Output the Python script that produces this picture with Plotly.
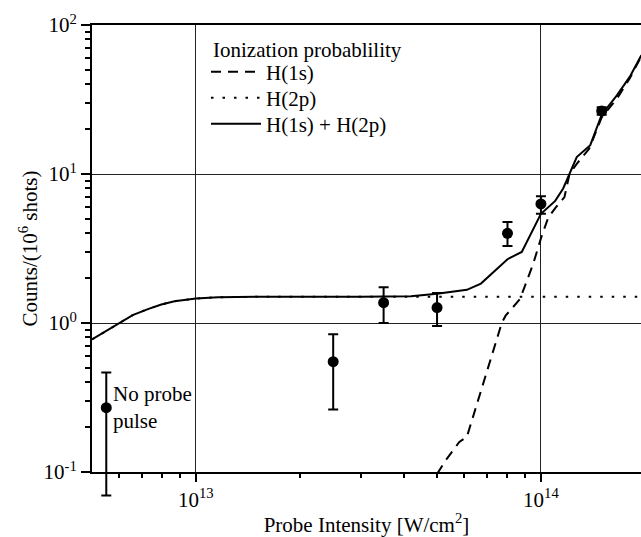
import numpy as np
import plotly.graph_objects as go

# Measured data (probe intensity W/cm^2, counts per 10^6 shots)
data_x = [5.5e12, 2.5e13, 3.5e13, 5.0e13, 8.0e13, 1.0e14, 1.5e14]
data_y = [0.27, 0.55, 1.37, 1.27, 4.0, 6.3, 26.5]
data_hi = [0.465, 0.84, 1.74, 1.59, 4.77, 7.08, 28.0]
data_lo = [0.0695, 0.263, 1.0, 0.955, 3.29, 5.42, 25.0]

# H(1s) ionization probability (dashed)
h1s_x = [5.0e13, 5.3e13, 5.8e13, 6.1e13, 7.7e13, 7.9e13, 8.7e13, 9.5e13, 1.0e14,
         1.05e14, 1.1e14, 1.17e14, 1.21e14, 1.27e14, 1.38e14, 1.5e14, 1.66e14,
         1.81e14, 1.95e14]
h1s_y = [0.097, 0.12, 0.159, 0.172, 1.0, 1.12, 1.45, 2.5, 3.7,
         5.1, 5.9, 7.0, 10.0, 11.7, 14.8, 24.0, 32.0, 44.0, 61.0]

# H(2p) ionization probability (dotted)
h2p_x = [5.0e12, 5.4e12, 5.94e12, 6.56e12, 7.26e12, 7.94e12, 8.67e12, 1.0e13,
         1.16e13, 1.5e13, 2.0e14]
h2p_y = [0.775, 0.86, 0.99, 1.13, 1.24, 1.33, 1.40, 1.46, 1.49, 1.5, 1.5]

# H(1s) + H(2p) (solid)
tot_x = [5.0e12, 5.4e12, 5.94e12, 6.56e12, 7.26e12, 7.94e12, 8.67e12, 1.0e13,
         1.16e13, 1.5e13, 3.0e13, 4.2e13,
         5.0e13, 6.1e13, 6.7e13, 8.0e13, 8.8e13, 1.0e14, 1.1e14, 1.16e14,
         1.27e14, 1.39e14, 1.5e14, 1.66e14, 1.81e14, 1.95e14, 2.0e14]
tot_y = [0.775, 0.86, 0.99, 1.13, 1.24, 1.33, 1.40, 1.46,
         1.49, 1.5, 1.5, 1.51,
         1.57, 1.67, 1.84, 2.68, 3.0, 5.4, 6.6, 8.0,
         13.0, 15.6, 25.0, 33.7, 45.0, 62.0, 66.0]

series_names = ["H(1s)", "H(2p)", "H(1s) + H(2p)"]
legend_title = "Ionization probablility"

x_major = [1e13, 1e14]
x_major_text = ["10<sup>13</sup>", "10<sup>14</sup>"]
y_major = [0.1, 1, 10, 100]
y_major_text = ["10<sup>-1</sup>", "10<sup>0</sup>", "10<sup>1</sup>", "10<sup>2</sup>"]

x_minor = [6e12, 7e12, 8e12, 9e12] + [k * 1e13 for k in range(2, 10)] + [2e14]
y_minor = [k * 10.0 ** e for e in (-1, 0, 1) for k in range(2, 10)]

FONT = "Liberation Serif, Times New Roman, serif"
FS = 21

# geometry: paper area 25..497 px; main axis bottom at 472 px
H = 537
M_T, M_B = 25, 40
paper_h = H - M_T - M_B
low = 25 / paper_h
x_range = [np.log10(5e12), 14.29]
y_range = [-1, 2]
per_dec = (1 - low) * paper_h / (y_range[1] - y_range[0])
y2_range = [y_range[0] - low * paper_h / per_dec, y_range[1]]


def py(px):
    """pixel row -> paper y"""
    return (H - M_B - px) / paper_h


fig = go.Figure()
fig.add_trace(go.Scatter(x=h1s_x, y=h1s_y, mode="lines", name=series_names[0],
                         legend="legend",
                         line=dict(color="black", width=2, dash="10px,7px")))
fig.add_trace(go.Scatter(x=h2p_x, y=h2p_y, mode="lines", name=series_names[1],
                         legend="legend2",
                         line=dict(color="black", width=2, dash="2.5px,9px")))
fig.add_trace(go.Scatter(x=tot_x, y=tot_y, mode="lines", name=series_names[2],
                         legend="legend3",
                         line=dict(color="black", width=2)))
fig.add_trace(go.Scatter(
    x=data_x, y=data_y, mode="markers", showlegend=False, cliponaxis=False,
    xaxis="x2", yaxis="y2",
    marker=dict(color="black", size=11),
    error_y=dict(type="data", symmetric=False,
                 array=[h - y for h, y in zip(data_hi, data_y)],
                 arrayminus=[y - l for l, y in zip(data_lo, data_y)],
                 color="black", thickness=2, width=5)))

fig.add_annotation(x=np.log10(5.5e12), y=np.log10(0.27), xref="x", yref="y",
                   text="No probe<br>pulse", showarrow=False, xanchor="left",
                   yanchor="middle", xshift=5, align="left",
                   font=dict(family=FONT, size=FS, color="black"))
fig.add_annotation(x=(213 - 92) / 549, y=py(50), xref="paper", yref="paper",
                   text=legend_title, showarrow=False, xanchor="left",
                   yanchor="middle", xshift=-2,
                   font=dict(family=FONT, size=FS, color="black"))

leg_common = dict(xanchor="left", yanchor="middle", bgcolor="rgba(0,0,0,0)",
                  borderwidth=0, font=dict(family=FONT, size=FS), itemwidth=50)
lx = (206 - 92) / 549

fig.update_layout(
    width=641, height=H,
    margin=dict(l=92, r=0, t=M_T, b=M_B),
    paper_bgcolor="white", plot_bgcolor="rgba(0,0,0,0)",
    font=dict(family=FONT, size=FS, color="black"),
    showlegend=True,
    legend=dict(x=lx, y=py(72), **leg_common),
    legend2=dict(x=lx, y=py(98), **leg_common),
    legend3=dict(x=lx, y=py(124), **leg_common),
    xaxis=dict(
        type="log", range=x_range, anchor="y", domain=[0, 1],
        tickmode="array", tickvals=x_major, ticktext=x_major_text,
        ticks="outside", ticklen=8, tickwidth=2, tickcolor="black",
        showline=True, linecolor="black", linewidth=2, mirror=True,
        showgrid=True, gridcolor="#222", gridwidth=1, zeroline=False,
        minor=dict(tickmode="array", tickvals=x_minor, ticks="outside", ticklen=4,
                   tickwidth=2, tickcolor="black", showgrid=False),
        title=dict(text="Probe Intensity [W/cm<sup>2</sup>]", font=dict(family=FONT, size=FS), standoff=6),
        tickfont=dict(family=FONT, size=FS),
    ),
    yaxis=dict(
        type="log", range=y_range, domain=[low, 1], anchor="x",
        tickmode="array", tickvals=y_major, ticktext=y_major_text,
        ticks="outside", ticklen=9, tickwidth=2, tickcolor="black",
        showline=True, linecolor="black", linewidth=2, mirror=False,
        showgrid=True, gridcolor="#222", gridwidth=1, zeroline=False,
        minor=dict(tickmode="array", tickvals=y_minor, ticks="outside", ticklen=5,
                   tickwidth=2, tickcolor="black", showgrid=False),
        title=dict(text="Counts/(10<sup>6</sup> shots)", font=dict(family=FONT, size=FS), standoff=0),
        tickfont=dict(family=FONT, size=FS),
    ),
    xaxis2=dict(type="log", range=x_range, anchor="y2", domain=[0, 1],
                visible=False, showgrid=False, zeroline=False),
    yaxis2=dict(type="log", range=y2_range, domain=[0, 1], anchor="x2",
                visible=False, showgrid=False, zeroline=False),
)

fig.write_html("out.html")
